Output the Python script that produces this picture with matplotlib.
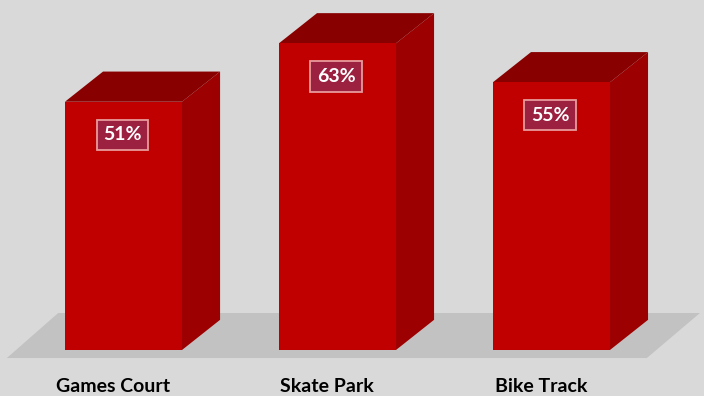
import matplotlib.pyplot as plt
from matplotlib.patches import Polygon

# survey results, percent
categories = ['Games Court', 'Skate Park', 'Bike Track']
values = [51, 63, 55]

bar_w = 0.547      # front face width (category units)
dep_x = 0.178      # depth offset of the 3d box
dep_y = 6.2        # depth offset in percent units

front_col = '#c00000'
side_col = '#9c0000'
top_col = '#880000'

fig = plt.figure(figsize=(7.04, 3.96), dpi=100)
fig.patch.set_facecolor('#d9d9d9')
ax = fig.add_axes([0, 0, 1, 1])
ax.set_facecolor('#d9d9d9')
ax.set_xlim(-0.577, 2.713)
ax.set_ylim(-9.45, 71.9)
ax.axis('off')

# floor
floor = Polygon([(-0.545, -1.65), (2.446, -1.65), (2.694, 7.6), (-0.305, 7.6)],
                closed=True, facecolor='#c2c2c2', edgecolor='none', zorder=1)
ax.add_patch(floor)

for i, (cat, v) in enumerate(zip(categories, values)):
    x0 = i - bar_w / 2
    x1 = i + bar_w / 2
    front = Polygon([(x0, 0), (x1, 0), (x1, v), (x0, v)],
                    facecolor=front_col, edgecolor='none', zorder=3)
    side = Polygon([(x1, 0), (x1 + dep_x, dep_y), (x1 + dep_x, v + dep_y), (x1, v)],
                   facecolor=side_col, edgecolor='none', zorder=2)
    top = Polygon([(x0, v), (x1, v), (x1 + dep_x, v + dep_y), (x0 + dep_x, v + dep_y)],
                  facecolor=top_col, edgecolor='none', zorder=2)
    for p in (side, top, front):
        ax.add_patch(p)

    ax.text(i - 0.005, v - 6.8, f'{v}%', ha='center', va='center', color='white',
            fontsize=14, fontweight='bold', family='Lato', zorder=5,
            bbox=dict(boxstyle='square,pad=0.34', facecolor='#9c2040',
                      edgecolor='#e89a9a', linewidth=1.3))

    ax.text(i - 0.05, -7.5, cat, ha='center', va='center', color='black',
            fontsize=14, fontweight='bold', family='Lato')

plt.savefig('out.png', dpi=100, facecolor=fig.get_facecolor())
